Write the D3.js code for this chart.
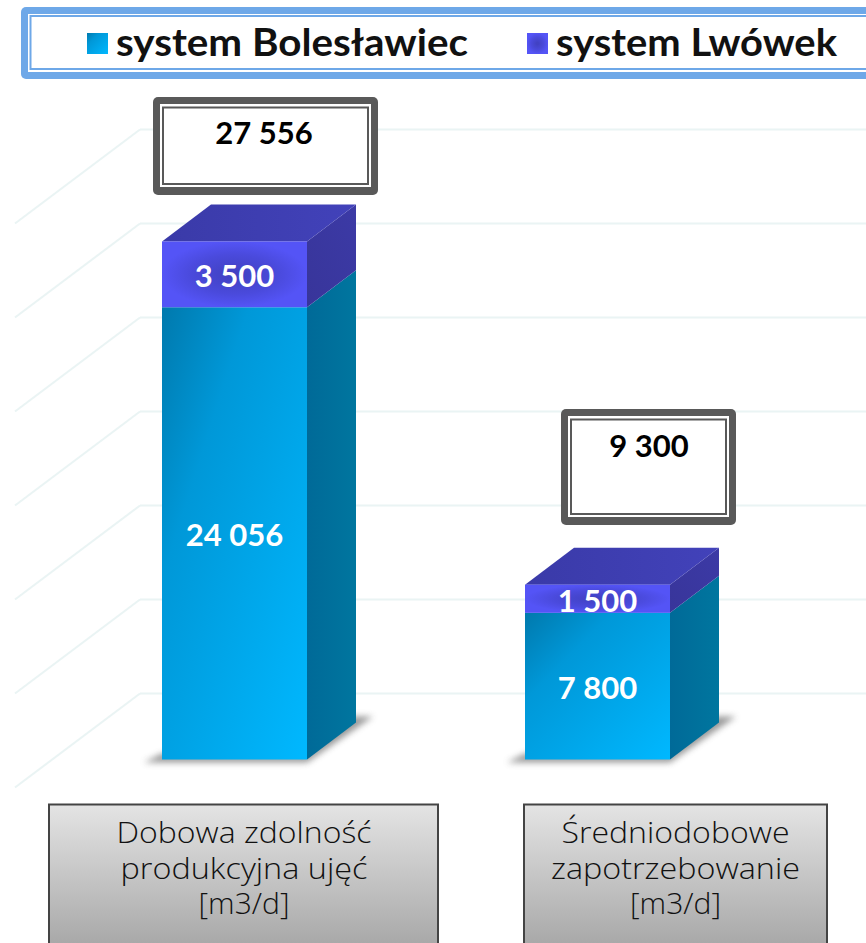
<!DOCTYPE html>
<html>
<head>
<meta charset="utf-8">
<script src="https://cdnjs.cloudflare.com/ajax/libs/d3/7.8.5/d3.min.js"></script>
<style>
  html, body { margin: 0; padding: 0; background: #fff; }
  svg { display: block; font-family: Lato, 'Open Sans', sans-serif; }
</style>
</head>
<body>
<div id="chart"></div>
<script>
(function () {
  'use strict';

  var categories = [
    ['Dobowa zdolność', 'produkcyjna ujęć', '[m3/d]'],
    ['Średniodobowe', 'zapotrzebowanie', '[m3/d]']
  ];
  var seriesNames = ['system Bolesławiec', 'system Lwówek'];
  var boleslawiec = [24056, 7800];
  var lwowek = [3500, 1500];
  var totals = [27556, 9300];
  var gridValues = [0, 5000, 10000, 15000, 20000, 25000, 30000];

  var width = 866, height = 943;

  var svg = d3.select('#chart').append('svg')
    .attr('width', width)
    .attr('height', height);

  var defs = svg.append('defs');

  // small helper for the linear gradients, stops are [offset, colour]
  function gradient(id, x1, y1, x2, y2, stops) {
    var g = defs.append('linearGradient').attr('id', id)
      .attr('x1', x1).attr('y1', y1).attr('x2', x2).attr('y2', y2);
    stops.forEach(function (s) {
      g.append('stop').attr('offset', s[0]).attr('stop-color', s[1]);
    });
  }

  gradient('blueFront', 0, 0, 1, 1, [[0, '#0079ad'], [0.3, '#0098d8'], [1, '#00b8ff']]);
  gradient('blueSide', 0, 0, 1, 0, [[0, '#006a98'], [1, '#00769f']]);
  gradient('purpleTop', 0, 0, 1, 0, [[0, '#3a3aa8'], [1, '#4242ba']]);
  gradient('purpleSide', 0, 1, 1, 0, [[0, '#38359a'], [1, '#3c3aa6']]);
  gradient('greyBox', 0, 0, 0, 1, [[0, '#e4e4e4'], [1, '#a4a4a4']]);

  // the purple front is darker in the middle, behind the label
  var purple = defs.append('radialGradient').attr('id', 'purpleFront');
  purple.append('stop').attr('offset', 0.1).attr('stop-color', '#4242c4');
  purple.append('stop').attr('offset', 0.6).attr('stop-color', '#4a4adc');
  purple.append('stop').attr('offset', 1).attr('stop-color', '#5454f6');

  var blur = defs.append('filter').attr('id', 'soft')
    .attr('x', '-20%').attr('y', '-50%').attr('width', '140%').attr('height', '200%');
  blur.append('feGaussianBlur').attr('stdDeviation', 3);

  // front of the bars, value scale is shared with the back wall grid
  var y = d3.scaleLinear().domain([0, 30000]).range([759.5, 195.5]);
  var x = d3.scalePoint().domain([0, 1]).range([162, 525]);
  var barWidth = 145;
  var depthX = 49, depthY = 37;

  // back wall grid lines and the diagonals running to the front
  var gridOffset = -66;
  var grid = svg.append('g').attr('class', 'grid')
    .attr('fill', 'none')
    .attr('stroke', '#eaf4f4')
    .attr('stroke-width', 2);

  grid.selectAll('line.back')
    .data(gridValues)
    .enter()
    .append('line')
    .attr('class', 'back')
    .attr('x1', 140)
    .attr('x2', width)
    .attr('y1', function (d) { return y(d) + gridOffset; })
    .attr('y2', function (d) { return y(d) + gridOffset; });

  grid.selectAll('line.diag')
    .data(gridValues)
    .enter()
    .append('line')
    .attr('class', 'diag')
    .attr('x1', 140)
    .attr('x2', 15)
    .attr('y1', function (d) { return y(d) + gridOffset; })
    .attr('y2', function (d) { return y(d) + gridOffset + 94; });

  // legend frame
  var legend = svg.append('g').attr('class', 'legend');
  legend.append('rect')
    .attr('x', 21).attr('y', 7).attr('width', 880).attr('height', 72).attr('rx', 5)
    .attr('fill', '#6ea8e8');
  legend.append('rect')
    .attr('x', 28).attr('y', 14).attr('width', 860).attr('height', 58)
    .attr('fill', '#fff');
  legend.append('rect')
    .attr('x', 30.5).attr('y', 16).attr('width', 860).attr('height', 53)
    .attr('fill', 'none').attr('stroke', '#6ea8e8').attr('stroke-width', 2);

  var legendSwatchX = [87, 527];
  var legendFill = ['blueFront', 'purpleFront'];
  var legendTextWidth = [352, 281];
  seriesNames.forEach(function (name, i) {
    legend.append('rect')
      .attr('x', legendSwatchX[i]).attr('y', 33).attr('width', 21).attr('height', 21)
      .attr('fill', 'url(#' + legendFill[i] + ')');
    legend.append('text')
      .attr('x', legendSwatchX[i] + 29)
      .attr('y', 56)
      .attr('font-size', 38)
      .attr('font-weight', 700)
      .attr('fill', '#111')
      .attr('textLength', legendTextWidth[i])
      .attr('lengthAdjust', 'spacingAndGlyphs')
      .text(name);
  });

  // one stacked box per category
  var bars = svg.selectAll('g.bar')
    .data(categories)
    .enter()
    .append('g')
    .attr('class', 'bar');

  function face(points) {
    return d3.line()(points) + 'Z';
  }

  function spaced(v) {
    return d3.format(',')(v).replace(',', ' ');
  }

  bars.each(function (d, i) {
    var g = d3.select(this);
    var left = x(i), right = left + barWidth;
    var y0 = y(0), y1 = y(boleslawiec[i]), y2 = y(boleslawiec[i] + lwowek[i]);

    // floor shadow
    g.append('path')
      .attr('d', face([[left - 18, y0 + 3], [right, y0 + 3], [right + 66, y0 - depthY - 6], [right + 40, y0 - depthY - 6], [right, y0 - 6], [left, y0 - 6]]))
      .attr('fill', '#777')
      .attr('opacity', 0.75)
      .attr('filter', 'url(#soft)');

    // side faces
    g.append('path')
      .attr('d', face([[right, y0], [right + depthX, y0 - depthY], [right + depthX, y1 - depthY], [right, y1]]))
      .attr('fill', 'url(#blueSide)');
    g.append('path')
      .attr('d', face([[right, y1], [right + depthX, y1 - depthY], [right + depthX, y2 - depthY], [right, y2]]))
      .attr('fill', 'url(#purpleSide)');

    // top face
    g.append('path')
      .attr('d', face([[left, y2], [left + depthX, y2 - depthY], [right + depthX, y2 - depthY], [right, y2]]))
      .attr('fill', 'url(#purpleTop)');

    // front faces
    g.append('rect')
      .attr('x', left).attr('y', y1).attr('width', barWidth).attr('height', y0 - y1)
      .attr('fill', 'url(#blueFront)');
    g.append('rect')
      .attr('x', left).attr('y', y2).attr('width', barWidth).attr('height', y1 - y2)
      .attr('fill', 'url(#purpleFront)');

    // value labels
    g.append('text')
      .attr('x', left + barWidth / 2)
      .attr('y', (y0 + y1) / 2 + 13)
      .attr('text-anchor', 'middle')
      .attr('font-size', 31).attr('font-weight', 700).attr('fill', '#fff')
      .text(spaced(boleslawiec[i]));
    g.append('text')
      .attr('x', left + barWidth / 2)
      .attr('y', (y1 + y2) / 2 + 13)
      .attr('text-anchor', 'middle')
      .attr('font-size', 31).attr('font-weight', 700).attr('fill', '#fff')
      .text(spaced(lwowek[i]));
  });

  // boxes with the totals
  var totalBoxX = [153, 561], totalBoxY = [97, 409];
  var totalBoxW = [225, 175], totalBoxH = [98, 116];
  var totalTextX = [264, 649], totalTextY = [144, 457];
  totals.forEach(function (t, i) {
    var g = svg.append('g').attr('class', 'total');
    var bx = totalBoxX[i], by = totalBoxY[i], bw = totalBoxW[i], bh = totalBoxH[i];
    g.append('rect')
      .attr('x', bx).attr('y', by).attr('width', bw).attr('height', bh).attr('rx', 5)
      .attr('fill', '#595959');
    g.append('rect')
      .attr('x', bx + 7).attr('y', by + 7).attr('width', bw - 14).attr('height', bh - 15)
      .attr('fill', '#fff');
    g.append('rect')
      .attr('x', bx + 10).attr('y', by + 10.5).attr('width', bw - 20).attr('height', bh - 21.5)
      .attr('fill', '#fff').attr('stroke', '#595959').attr('stroke-width', 2);
    g.append('text')
      .attr('x', totalTextX[i])
      .attr('y', totalTextY[i])
      .attr('text-anchor', 'middle')
      .attr('font-size', 31).attr('font-weight', 700).attr('fill', '#000')
      .text(spaced(t));
  });

  // category boxes along the bottom, the reference face is wider than ours so stretch to fit
  var catBoxX = [49, 524], catBoxW = [389, 303];
  var catTextX = [244, 675.5];
  var catTextWidth = [[255, 247, 91], [228, 249, 91]];
  categories.forEach(function (lines, i) {
    var g = svg.append('g').attr('class', 'category');
    g.append('rect')
      .attr('x', catBoxX[i]).attr('y', 804.5).attr('width', catBoxW[i]).attr('height', 150)
      .attr('fill', 'url(#greyBox)')
      .attr('stroke', '#444').attr('stroke-width', 2);
    g.selectAll('text')
      .data(lines)
      .enter()
      .append('text')
      .attr('x', catTextX[i])
      .attr('y', function (d, j) { return 843 + j * 35.5; })
      .attr('text-anchor', 'middle')
      .attr('font-family', "'Open Sans', sans-serif")
      .attr('font-size', 29)
      .attr('font-weight', 300)
      .attr('fill', '#111')
      .attr('textLength', function (d, j) { return catTextWidth[i][j]; })
      .attr('lengthAdjust', 'spacingAndGlyphs')
      .text(function (d) { return d; });
  });
}());
</script>
</body>
</html>
